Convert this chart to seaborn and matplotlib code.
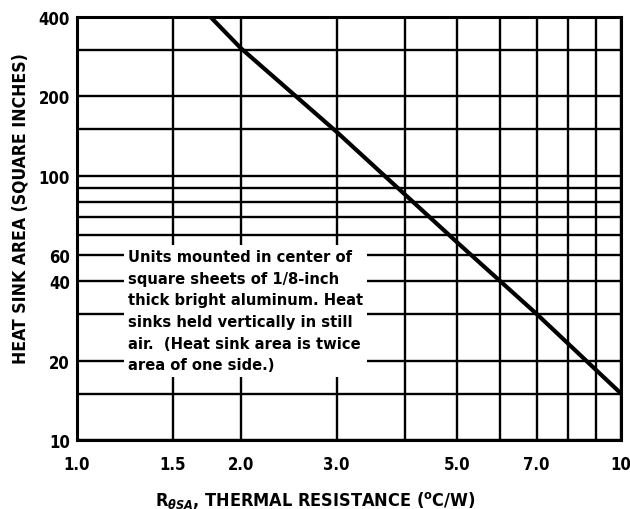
import numpy as np
import pandas as pd
import matplotlib
matplotlib.use("Agg")
import matplotlib.pyplot as plt
import matplotlib.ticker as ticker
import seaborn as sns

# curve (log-log)
r_theta = [1.76, 2.0, 3.0, 5.0, 7.0, 10.0]
area = [400, 305, 147, 56, 30, 15]

x_ticks = [1.0, 1.5, 2.0, 3.0, 5.0, 7.0, 10.0]
x_labels = ["1.0", "1.5", "2.0", "3.0", "5.0", "7.0", "10"]
x_minor = [4.0, 6.0, 8.0, 9.0]

y_ticks = [10, 20, 40, 50, 100, 200, 400]
y_labels = ["10", "20", "40", "60", "100", "200", "400"]
y_minor = [15, 30, 60, 70, 80, 90, 150, 300]

note = ("Units mounted in center of\n"
        "square sheets of 1/8-inch\n"
        "thick bright aluminum. Heat\n"
        "sinks held vertically in still\n"
        "air.  (Heat sink area is twice\n"
        "area of one side.)")

sns.set_style("white")
plt.rcParams['font.family'] = ['DejaVu Sans']
plt.rcParams['font.stretch'] = 'condensed'
plt.rcParams['font.weight'] = 'bold'
plt.rcParams['text.color'] = 'black'
plt.rcParams['axes.labelcolor'] = 'black'

df = pd.DataFrame({'r': r_theta, 'area': area})

fig = plt.figure(figsize=(6.3, 5.1), dpi=100)
ax = fig.add_axes([0.1222, 0.1353, 0.8635, 0.8294])

sns.lineplot(data=df, x='r', y='area', ax=ax, color='black', linewidth=3, zorder=4)

ax.set_xscale('log')
ax.set_yscale('log')
ax.set_xlim(1.0, 10.0)
ax.set_ylim(10, 400)

ax.xaxis.set_major_locator(ticker.FixedLocator(x_ticks))
ax.xaxis.set_major_formatter(ticker.FixedFormatter(x_labels))
ax.xaxis.set_minor_locator(ticker.FixedLocator(x_minor))
ax.xaxis.set_minor_formatter(ticker.NullFormatter())
ax.yaxis.set_major_locator(ticker.FixedLocator(y_ticks))
ax.yaxis.set_major_formatter(ticker.FixedFormatter(y_labels))
ax.yaxis.set_minor_locator(ticker.FixedLocator(y_minor))
ax.yaxis.set_minor_formatter(ticker.NullFormatter())

ax.grid(True, which='both', color='black', linewidth=1.7)
ax.set_axisbelow(True)
ax.tick_params(which='both', length=0, labelsize=12, colors='black')
ax.tick_params(axis='x', pad=11)
ax.tick_params(axis='y', pad=5)
for s in ax.spines.values():
    s.set_color('black')
    s.set_linewidth(2.2)

ax.set_xlabel(r"R$_{\theta SA}$, THERMAL RESISTANCE ($^{\rm o}$C/W)", fontsize=13,
              fontweight='bold')
ax.set_ylabel("HEAT SINK AREA (SQUARE INCHES)", fontsize=12.6, fontweight='bold')
ax.xaxis.set_label_coords(0.4375, -0.116)
ax.yaxis.set_label_coords(-0.088, 0.55)

ax.text(0.094, 0.452, note, transform=ax.transAxes, ha='left', va='top',
        fontsize=11.8, fontweight='bold', linespacing=1.56, zorder=3,
        bbox=dict(boxstyle='square,pad=0.25', fc='white', ec='none'))

plt.savefig('out.png', dpi=100)
